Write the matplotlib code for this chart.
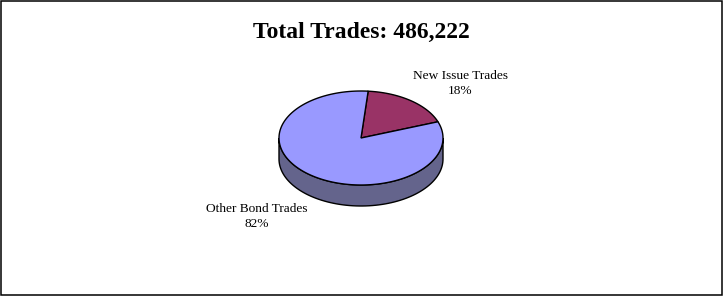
import numpy as np
import matplotlib
matplotlib.use("Agg")
import matplotlib.pyplot as plt
from matplotlib.patches import Polygon, Rectangle

# data
labels = ["New Issue Trades", "Other Bond Trades"]
shares = [18, 82]
title = "Total Trades: 486,222"

top_colors = ["#993366", "#9999ff"]
side_colors = ["#5c2a45", "#64648c"]

W, H = 725, 297
fig = plt.figure(figsize=(W / 100, H / 100), dpi=100)
ax = fig.add_axes([0, 0, 1, 1])
ax.set_xlim(0, W)
ax.set_ylim(H, 0)
ax.axis("off")

# outer frame
ax.add_patch(Rectangle((0.5, 0.5), 722, 294, fill=False, ec="black", lw=1.1))

ax.text(361, 32, title, ha="center", va="center", fontsize=17, fontweight="bold",
        family="Liberation Serif")

# pie geometry (pixels)
cx, cy = 361, 138
rx, ry = 82, 47
depth = 21
start = 85.0


def pt(t, dy=0):
    r = np.radians(t)
    return cx + rx * np.cos(r), cy - ry * np.sin(r) + dy


fracs = np.array(shares) / sum(shares)
bounds = [start]
for f in fracs:
    bounds.append(bounds[-1] - f * 360)

# sides first (front half only)
for i in range(len(shares)):
    hi, lo = bounds[i], bounds[i + 1]
    for a, b in [(-180, 0), (180, 360), (-540, -360)]:
        s, e = max(lo, a), min(hi, b)
        if e <= s:
            continue
        ts = np.linspace(s, e, 80)
        upper = [pt(t) for t in ts]
        lower = [pt(t, depth) for t in ts[::-1]]
        ax.add_patch(Polygon(upper + lower, closed=True, fc=side_colors[i],
                             ec="black", lw=1))

# top faces
for i in range(len(shares)):
    hi, lo = bounds[i], bounds[i + 1]
    ts = np.linspace(hi, lo, 200)
    verts = [(cx, cy)] + [pt(t) for t in ts]
    ax.add_patch(Polygon(verts, closed=True, fc=top_colors[i], ec="black", lw=1))

# labels
label_r = [(1.99, 1.47), (2.09, 1.55)]
for i, lab in enumerate(labels):
    mid = np.radians((bounds[i] + bounds[i + 1]) / 2)
    lx = cx + label_r[i][0] * rx * np.cos(mid)
    ly = cy - label_r[i][1] * ry * np.sin(mid)
    if np.sin(mid) < 0:
        ly += depth
    ax.text(lx, ly, f"{lab}\n{shares[i]}%", ha="center", va="center", fontsize=9.6,
            family="Liberation Serif", linespacing=1.35)

fig.savefig("out.png", dpi=100)
